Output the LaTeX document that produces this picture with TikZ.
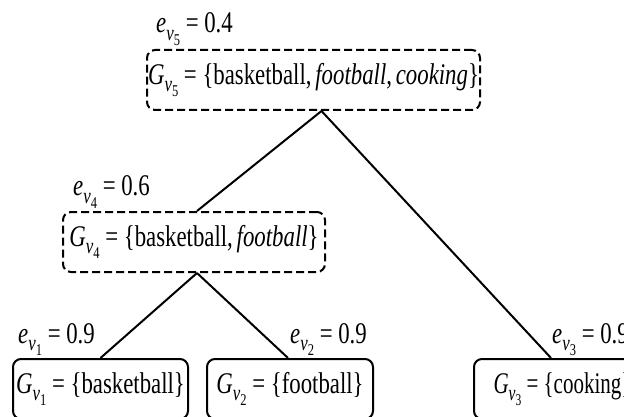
\documentclass[tikz,border=0pt]{standalone}
\usepackage{fontspec}
\setmainfont{Liberation Serif}
\usepackage{graphicx}
\newcommand{\sqz}[1]{\scalebox{0.76}[1]{#1}}
\newcommand{\sub}[1]{\raisebox{-0.24em}{\scalebox{0.74}{#1}}}
\newcommand{\Gv}[1]{\textit{G}\sub{\textit{v}\sub{#1}}}
\newcommand{\ev}[1]{\textit{e}\sub{\textit{v}\sub{#1}}}
\newcommand{\eqsign}{\hspace{0.25em}=\hspace{0.25em}}
\tikzset{
  solidbox/.style={draw, line width=2pt, rounded corners=8pt, inner sep=0pt,
    minimum height=60pt, font=\fontsize{30}{36}\selectfont},
  dashbox/.style={solidbox, dash pattern=on 8pt off 4pt},
  elab/.style={anchor=base west, inner sep=0pt, font=\fontsize{30}{36}\selectfont},
  edge/.style={line width=2pt}
}
\begin{document}
\begin{tikzpicture}[x=1pt, y=-1pt]
\useasboundingbox (0,0) rectangle (624,417);
\clip (0,0) rectangle (624,417);
% boxes
\node[dashbox, minimum width=333pt] (v5) at (313.5,80)
  {\sqz{\Gv{5}\eqsign\{basketball,\,\textit{football},\,\textit{cooking}\}}};
\node[dashbox, minimum width=262pt] (v4) at (194,242)
  {\sqz{\Gv{4}\eqsign\{basketball,\,\textit{football}\}}};
\node[solidbox, minimum width=175pt] (v1) at (100.5,389)
  {\sqz{\Gv{1}\eqsign\{basketball\}}};
\node[solidbox, minimum width=166pt] (v2) at (290,389)
  {\sqz{\Gv{2}\eqsign\{football\}}};
\node[solidbox, minimum width=172pt, anchor=west, inner xsep=0pt] (v3) at (473,389)
  {\hspace{5pt}\scalebox{0.7}[1]{\Gv{3}\eqsign\{cooking\}}\hspace{30pt}};
% labels
\node[elab] (l5) at (156,33) {\sqz{\ev{5}\eqsign 0.4}};
\node[elab] (l4) at (73,196) {\sqz{\ev{4}\eqsign 0.6}};
\node[elab] (l1) at (18,343) {\sqz{\ev{1}\eqsign 0.9}};
\node[elab] (l2) at (290,343) {\sqz{\ev{2}\eqsign 0.9}};
\node[elab] (l3) at (552,343) {\sqz{\ev{3}\eqsign 0.9}};
% edges
\draw[edge] ([xshift=8pt]v5.south) -- ([xshift=3pt]v4.north);
\draw[edge] ([xshift=8pt]v5.south) -- ([xshift=-9pt]v3.north);
\draw[edge] ([xshift=3pt]v4.south) -- (v1.north);
\draw[edge] ([xshift=3pt]v4.south) -- ([xshift=-2pt]v2.north);
\end{tikzpicture}
\end{document}
